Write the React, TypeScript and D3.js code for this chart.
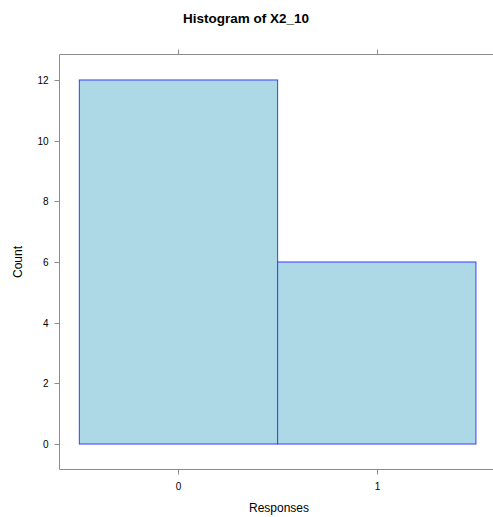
import { useEffect, useRef } from "react";
import * as d3 from "d3";

// histogram bins (Responses) and counts
const binStarts = [-0.5, 0.5];
const binEnds = [0.5, 1.5];
const counts = [12, 6];
const xTicks = [0, 1];
const yTicks = [0, 2, 4, 6, 8, 10, 12];

const W = 493;
const H = 517;

export default function App() {
  const svgRef = useRef<SVGSVGElement | null>(null);

  useEffect(() => {
    const svg = d3.select(svgRef.current);
    svg.selectAll("*").remove();

    const left = 59.5, top = 54.5, bottom = 469.5;
    const x = d3.scaleLinear().domain([-0.6, 1.6]).range([left, left + 2.2 * 198.3]);
    const y = d3.scaleLinear().domain([-0.84, 12.84]).range([bottom, top]);
    const right = x(1.6);
    const font = "'Liberation Sans', Arial, sans-serif";
    const frame = "#8c8c8c";

    // bars
    svg.append("g")
      .selectAll("rect")
      .data(counts)
      .join("rect")
      .attr("x", (_, i) => x(binStarts[i]))
      .attr("width", (_, i) => x(binEnds[i]) - x(binStarts[i]))
      .attr("y", (d) => y(d))
      .attr("height", (d) => y(0) - y(d))
      .attr("fill", "#add8e6")
      .attr("stroke", "#3b3bff")
      .attr("stroke-width", 1);

    // panel frame
    svg.append("path")
      .attr("d", `M${right},${top}H${left}V${bottom}H${right}`)
      .attr("fill", "none")
      .attr("stroke", frame)
      .attr("stroke-width", 1);

    // x ticks (bottom and top)
    const xt = svg.append("g");
    xTicks.forEach((t) => {
      const px = Math.round(x(t)) + 0.5;
      xt.append("line").attr("x1", px).attr("x2", px).attr("y1", bottom).attr("y2", bottom + 5)
        .attr("stroke", frame);
      xt.append("line").attr("x1", px).attr("x2", px).attr("y1", top).attr("y2", top - 5)
        .attr("stroke", frame);
      xt.append("text").attr("x", px).attr("y", bottom + 20)
        .attr("text-anchor", "middle").attr("font-size", 10).attr("font-family", font)
        .attr("fill", "#000").text(d3.format("d")(t));
    });

    // y ticks (left)
    const yt = svg.append("g");
    yTicks.forEach((t) => {
      const py = Math.round(y(t)) + 0.5;
      yt.append("line").attr("x1", left).attr("x2", left - 5).attr("y1", py).attr("y2", py)
        .attr("stroke", frame);
      yt.append("text").attr("x", left - 11).attr("y", py + 3.5)
        .attr("text-anchor", "end").attr("font-size", 10).attr("font-family", font)
        .attr("fill", "#000").text(t);
    });

    // titles
    svg.append("text").attr("x", 246).attr("y", 23)
      .attr("text-anchor", "middle").attr("font-size", 13.5).attr("font-weight", "bold")
      .attr("font-family", font).text("Histogram of X2_10");
    svg.append("text").attr("x", 279).attr("y", 512)
      .attr("text-anchor", "middle").attr("font-size", 12).attr("font-family", font)
      .text("Responses");
    svg.append("text")
      .attr("transform", `translate(22,${(top + bottom) / 2}) rotate(-90)`)
      .attr("text-anchor", "middle").attr("font-size", 12).attr("font-family", font)
      .text("Count");
  }, []);

  return (
    <div style={{ position: "absolute", left: 0, top: 0 }}>
      <svg ref={svgRef} width={W} height={H} style={{ display: "block", background: "#fff" }} />
    </div>
  );
}
